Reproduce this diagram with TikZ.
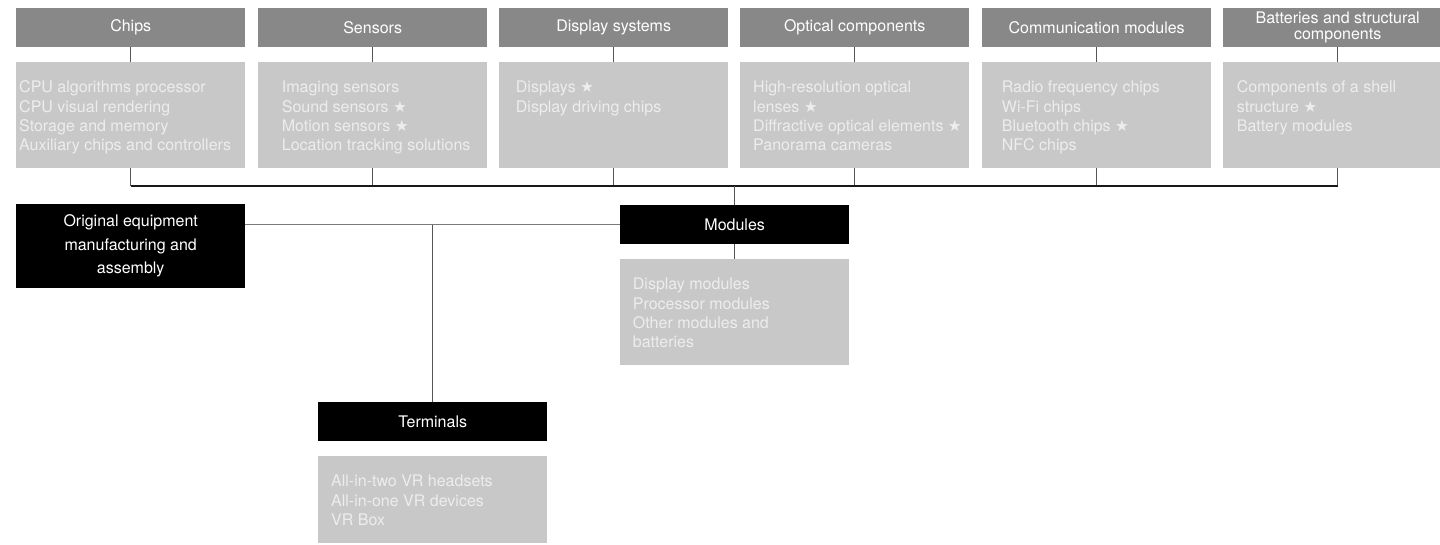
\documentclass[tikz,border=0pt]{standalone}
\usepackage{fontspec}
\setmainfont{TeX Gyre Heros}
\newfontfamily\symfont{DejaVu Sans}
\definecolor{hdrgray}{HTML}{888888}
\definecolor{lite}{HTML}{C8C8C8}
\definecolor{litetext}{HTML}{EDEDED}
\definecolor{linkgray}{HTML}{555555}
\definecolor{midgray}{HTML}{7A7A7A}
\newcommand\bodyfont{\fontsize{16}{19.3}\selectfont}
\newcommand\headfont{\fontsize{16}{15.7}\selectfont}
\newcommand\oemfont{\fontsize{16}{23.7}\selectfont}
\newcommand\starmark{{\symfont\fontsize{15.5}{19.3}\selectfont ★}}
\begin{document}
\begin{tikzpicture}[x=1pt,y=-1pt,
  hdr/.style={fill=hdrgray, text=white, minimum width=229pt, minimum height=38.7pt,
    inner sep=0pt, anchor=north west, align=center, font=\headfont},
  dark/.style={fill=black, text=white, minimum width=229pt, minimum height=38.7pt,
    inner sep=0pt, anchor=north west, align=center, font=\headfont},
  cbox/.style={fill=lite, minimum width=229pt, minimum height=105.3pt,
    inner sep=0pt, anchor=north west},
  ctext/.style={anchor=north west, inner sep=0pt, align=left, text=litetext, font=\bodyfont},
  link/.style={draw=linkgray, line width=1pt},
  softlink/.style={draw=midgray, line width=1.3pt},
  bus/.style={draw=black!90, line width=1.3pt}]
\clip (0,0) rectangle (1440,544);

% component categories
\node[hdr] (h1) at (16,8) {Chips};
\node[hdr] (h2) at (258,8) {Sensors};
\node[hdr] (h3) at (499,8) {Display systems};
\node[hdr] (h4) at (740,8) {Optical components};
\node[hdr] (h5) at (982,8) {Communication modules};
\node[hdr] (h6) at (1223,8) {Batteries and structural\\components};

\node[cbox] (c1) at (16,62) {};
\node[cbox] (c2) at (258,62) {};
\node[cbox] (c3) at (499,62) {};
\node[cbox] (c4) at (740,62) {};
\node[cbox] (c5) at (982,62) {};
\node[cbox] (c6) at (1223,62) {};

\node[ctext] (t1) at (19,79.2) {\strut CPU algorithms processor\\CPU visual rendering\\Storage and memory\\Auxiliary chips and controllers};
\node[ctext] (t2) at (281.7,79.2) {\strut Imaging sensors\\Sound sensors \starmark\\Motion sensors \starmark\\Location tracking solutions};
\node[ctext] (t3) at (515.7,79.2) {\strut Displays \starmark\\Display driving chips};
\node[ctext] (t4) at (753,79.2) {\strut High-resolution optical\\lenses \starmark\\Diffractive optical elements \starmark\\Panorama cameras};
\node[ctext] (t5) at (1001.7,79.2) {\strut Radio frequency chips\\Wi-Fi chips\\Bluetooth chips \starmark\\NFC chips};
\node[ctext] (t6) at (1236.7,79.2) {\strut Components of a shell\\structure \starmark\\Battery modules};

% assembly levels
\node[dark, minimum height=83.7pt, font=\oemfont] (oem) at (16,204) {Original equipment\\manufacturing and\\assembly};
\node[dark] (mod) at (620,205) {Modules};
\node[cbox] (mc) at (620,259) {};
\node[ctext] (mt) at (632.7,276.2) {\strut Display modules\\Processor modules\\Other modules and\\batteries};
\node[dark] (term) at (318,402) {Terminals};
\node[cbox, minimum height=87pt] (tc) at (318,456) {};
\node[ctext] (tt) at (331,473.2) {\strut All-in-two VR headsets\\All-in-one VR devices\\VR Box};

% connectors
\coordinate (busy) at (0,186);
\foreach \i in {1,...,6}{
  \draw[link] (h\i.south) -- (c\i.north);
  \draw[link] (c\i.south) -- (c\i.south |- busy);
}
\draw[bus] (c1.south |- busy) -- (c6.south |- busy);
\draw[link] (mod.north |- busy) -- (mod.north);
\draw[link] (mod.south) -- (mc.north);
\draw[softlink] (oem.east |- mod.west) -- (mod.west);
\draw[link] (term.north |- mod.west) -- (term.north);
\end{tikzpicture}
\end{document}
